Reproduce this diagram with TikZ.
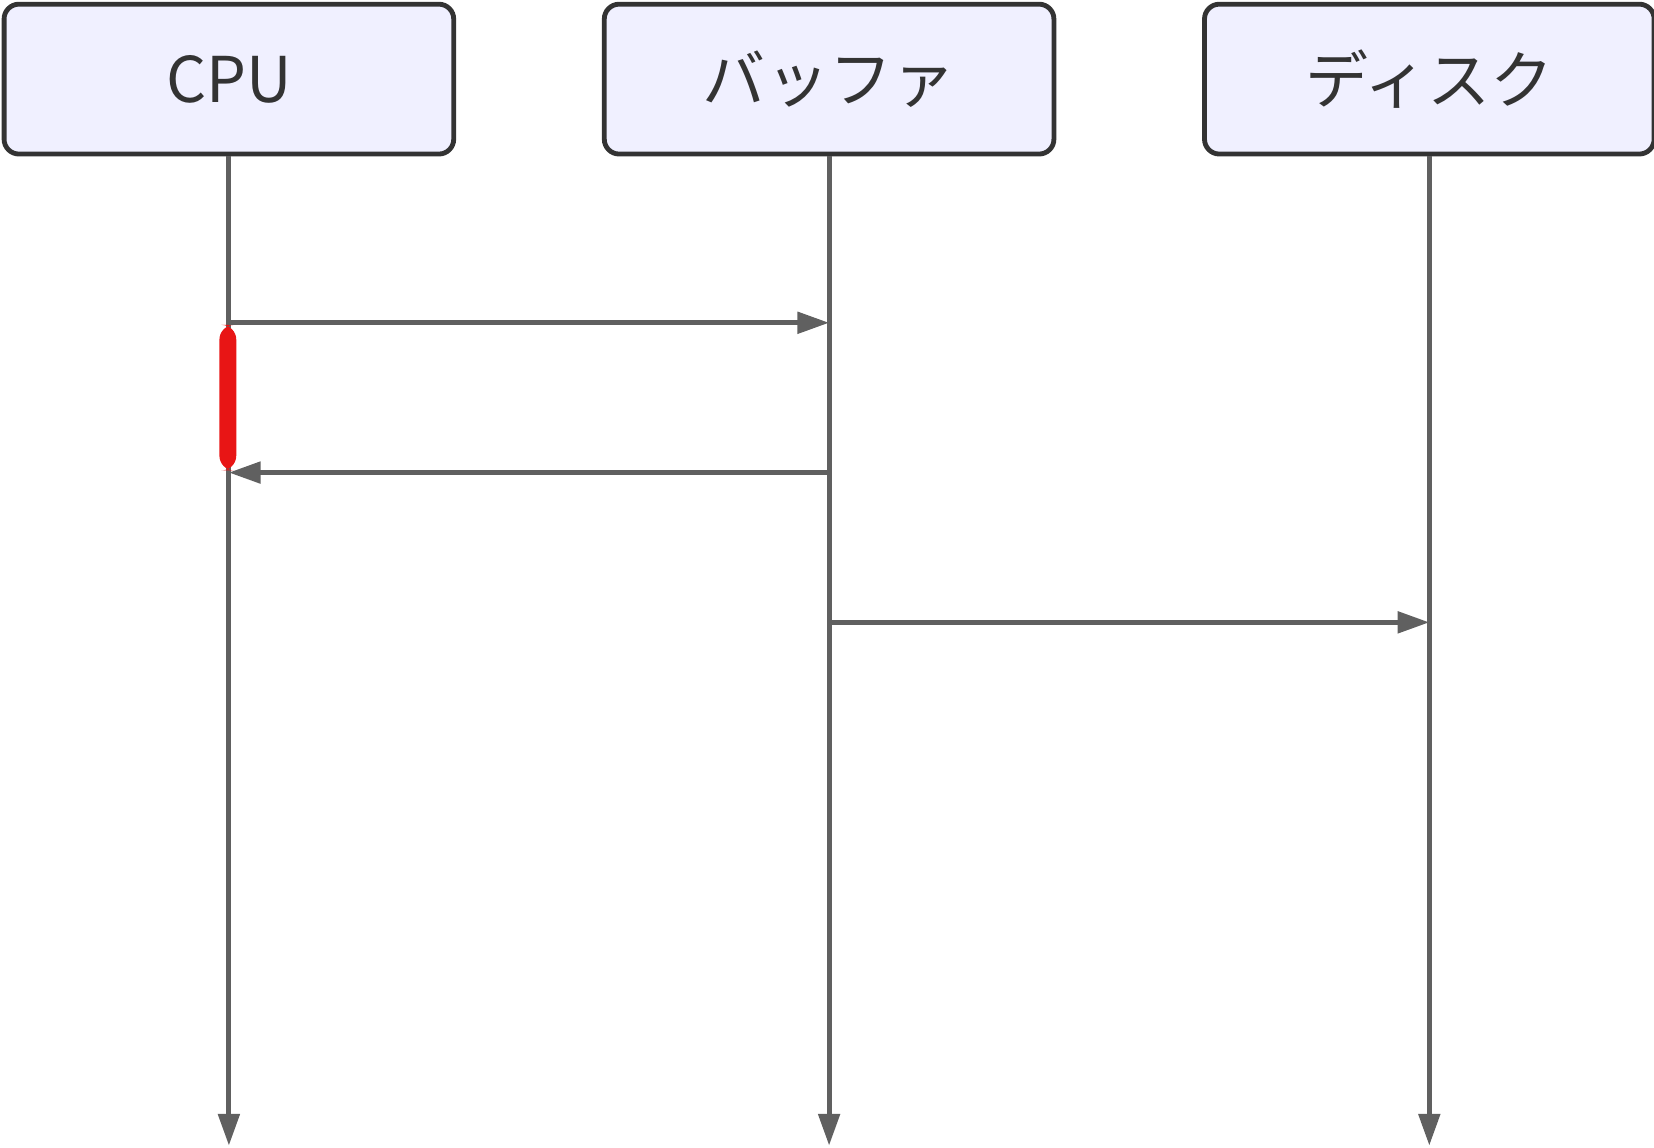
\documentclass[tikz,border=0pt]{standalone}
\usepackage{fontspec}
\setmainfont{Noto Sans CJK JP}
\usepackage[dvipsnames]{xcolor}
\usetikzlibrary{arrows.meta}
\definecolor{boxfill}{HTML}{F0F0FF}
\definecolor{boxline}{HTML}{333333}
\definecolor{wire}{HTML}{606060}
\definecolor{act}{HTML}{E81515}
\begin{document}
\begin{tikzpicture}[x=0.01cm,y=-0.01cm,>={Triangle[length=0.3cm,width=0.2cm]},
    actor/.style={draw=boxline,line width=1.3pt,fill=boxfill,rounded corners=4pt,minimum width=4.26cm,minimum height=1.42cm,font=\fontsize{17}{20}\selectfont,text=boxline},
    life/.style={draw=wire,line width=1.3pt,->},
    msg/.style={draw=wire,line width=1.3pt,->}]
    \useasboundingbox (0,0) rectangle (1568,1088);

            \node[actor] (cpu) at (217,75){CPU};
            \node[actor] (buf) at (786,75){バッファ};
            \node[actor] (disk) at (1355,75){ディスク};

            \coordinate (cpuend) at (217,1086);
            \coordinate (bufend) at (786,1086);
            \coordinate (diskend) at (1355,1086);

            \draw[life] (cpu) to (cpuend);
            \draw[life] (buf) to (bufend);
            \draw[life] (disk) to (diskend);

            \coordinate (c1) at (217,306);
            \coordinate (b1) at (786,306);
            \coordinate (c2) at (217,448);
            \coordinate (b2) at (786,448);
            \coordinate (b3) at (786,590);
            \coordinate (d3) at (1355,590);

            \fill[act,rounded corners=4pt] (208,308) rectangle (224,446);

            \draw[msg] (c1) to (b1);
            \draw[msg] (b2) to (c2);
            \draw[msg] (b3) to (d3);
\end{tikzpicture}
\end{document}
